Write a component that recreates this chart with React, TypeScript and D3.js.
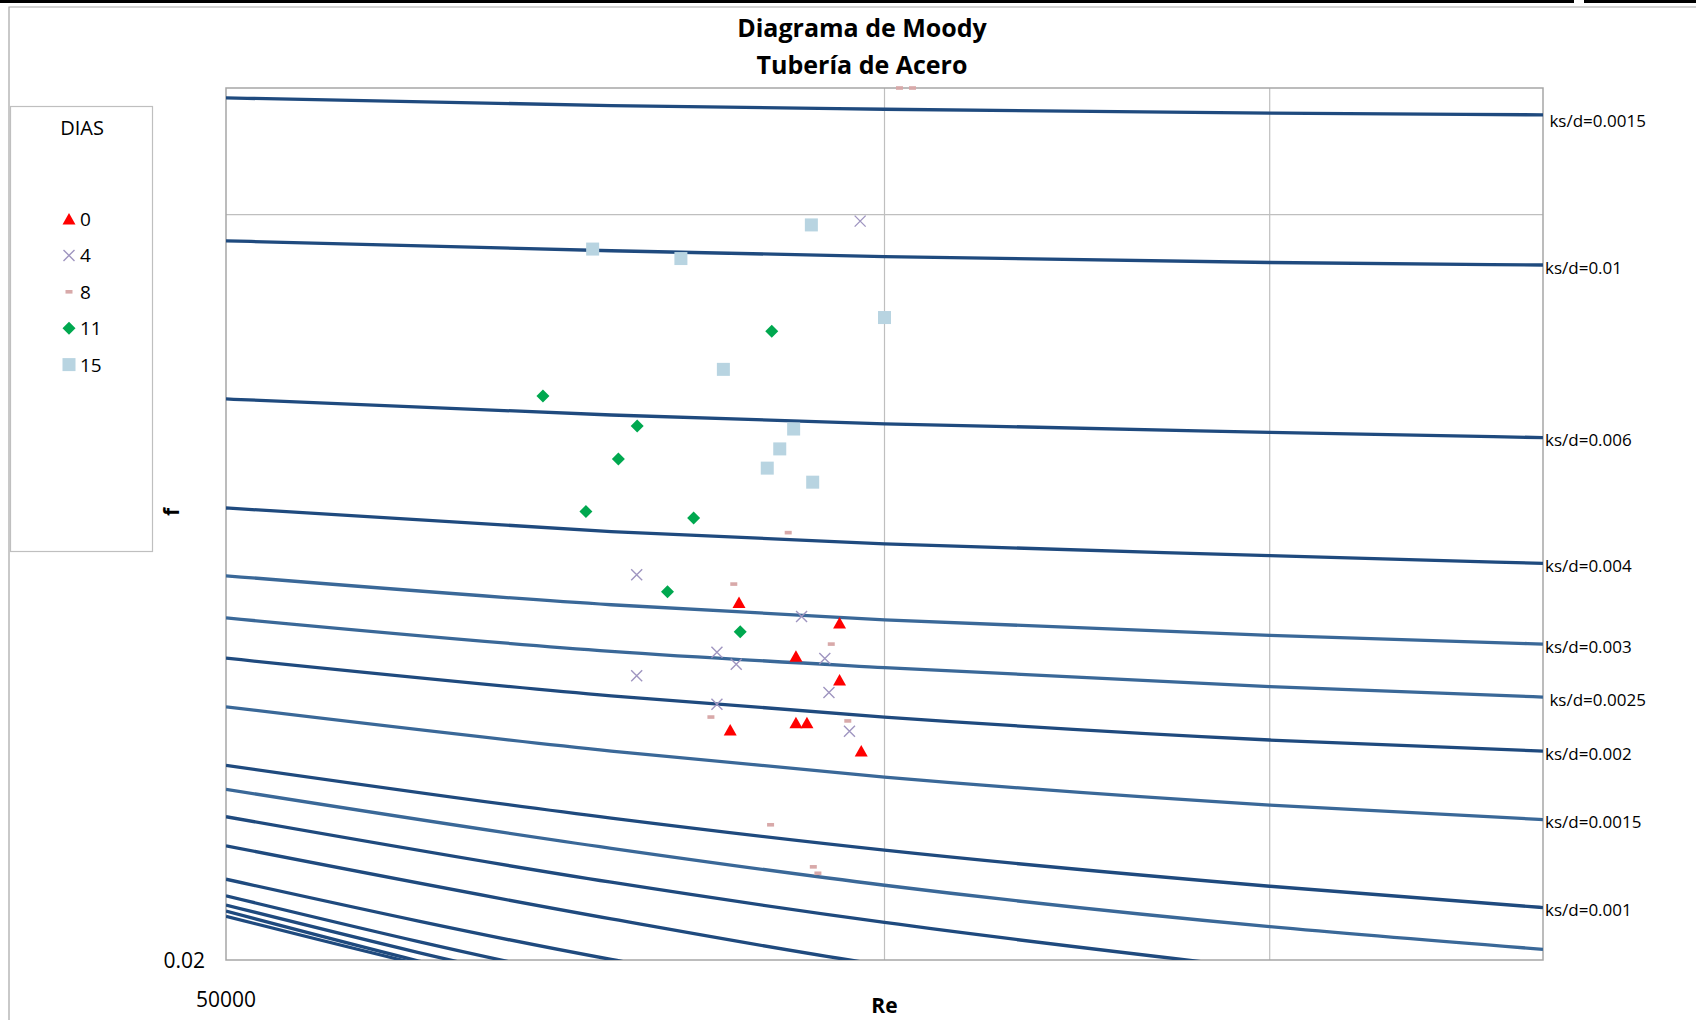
import React, { useEffect, useRef } from 'react';
import * as d3 from 'd3';

// Reynolds numbers at which the ks/d curves were read
const reGrid = [50000, 75000, 100000, 150000, 200000];

// one row per ks/d curve, values of f at reGrid (top curve first)
const curveF = [
  [0.04459, 0.04427, 0.04412, 0.04396, 0.04389],
  [0.03904, 0.03868, 0.03847, 0.03826, 0.03817],
  [0.03370, 0.03320, 0.03293, 0.03267, 0.03251],
  [0.03045, 0.02979, 0.02945, 0.02913, 0.02892],
  [0.02859, 0.02783, 0.02744, 0.02705, 0.02683],
  [0.02749, 0.02665, 0.02625, 0.02579, 0.02554],
  [0.02648, 0.02557, 0.02507, 0.02454, 0.02429],
  [0.02531, 0.02429, 0.02371, 0.02310, 0.02279],
  [0.02397, 0.02282, 0.02215, 0.02142, 0.02100],
  [0.02344, 0.02219, 0.02144, 0.02063, 0.02020],
  [0.02285, 0.02150, 0.02071, 0.01982, 0.01925],
  [0.02224, 0.02078, 0.01990, 0.01909, 0.01865],
  [0.02156, 0.02001, 0.01918, 0.01840, 0.01789],
  [0.02123, 0.01958, 0.01874, 0.01797, 0.01748],
  [0.02105, 0.01936, 0.01853, 0.01776, 0.01727],
  [0.02093, 0.01918, 0.01835, 0.01758, 0.01710],
  [0.02083, 0.01915, 0.01833, 0.01756, 0.01708],
];

const curveLabels = [
  " ks/d=0.0015", "ks/d=0.01", "ks/d=0.006", "ks/d=0.004", "ks/d=0.003",
  " ks/d=0.0025", "ks/d=0.002", "ks/d=0.0015", "ks/d=0.001",
  "", "", "", "", "", "", "", "",
];

// measured points, one pair of arrays per DIAS series
const re0 = [85800, 95380, 91100, 95380, 85010, 91100, 92160, 97580];
const f0 = [0.02789, 0.02736, 0.02653, 0.02595, 0.02477, 0.02494, 0.02494, 0.02429];

const re4 = [97470, 77040, 91640, 83830, 85550, 93910, 77040, 83830, 94320, 96380];
const f4 = [0.03976, 0.02862, 0.02753, 0.02663, 0.02633, 0.02647, 0.02605, 0.02537, 0.02565, 0.02474];

const re8 = [101590, 102990, 85330, 94550, 90360, 83300, 96210, 88700, 92780, 93230];
const f8 = [0.045, 0.045, 0.02837, 0.02683, 0.02976, 0.02507, 0.02498, 0.02268, 0.02181, 0.02168];

const re11 = [88810, 69800, 77080, 75570, 73030, 81800, 79580, 85910];
const f11 = [0.03589, 0.03379, 0.03286, 0.03187, 0.03035, 0.03017, 0.02817, 0.02714];

const re15 = [73550, 80710, 92590, 100000, 84400, 90880, 89560, 88390, 92720];
const f15 = [0.03874, 0.03840, 0.03962, 0.03635, 0.03464, 0.03277, 0.03217, 0.03160, 0.03119];

const diasNames = ["0", "4", "8", "11", "15"];

const xTicks = [50000];
const yTicks = [0.02];
const xGrid = [100000, 150000];
const yGrid = [0.04];

// style
const DARK = '#1f4a7e';
const LIGHT = '#3a6898';
const lightCurves = [4, 5, 7, 9];
const FONT = "'Open Sans', sans-serif";

type Kind = 'tri' | 'cross' | 'dash' | 'diamond' | 'square';
const kinds: Kind[] = ['tri', 'cross', 'dash', 'diamond', 'square'];

const drawMarker = (g: d3.Selection<SVGGElement, unknown, null, undefined>, kind: Kind, x: number, y: number) => {
  if (kind === 'tri') {
    g.append('path')
      .attr('d', `M${x},${y - 6}L${x + 6.5},${y + 5.5}L${x - 6.5},${y + 5.5}Z`)
      .attr('fill', '#ff0000');
  } else if (kind === 'cross') {
    g.append('path')
      .attr('d', `M${x - 5.5},${y - 5.5}L${x + 5.5},${y + 5.5}M${x - 5.5},${y + 5.5}L${x + 5.5},${y - 5.5}`)
      .attr('stroke', '#9f95c0')
      .attr('stroke-width', 1.4)
      .attr('fill', 'none');
  } else if (kind === 'dash') {
    g.append('rect')
      .attr('x', x - 3.5).attr('y', y - 1.8)
      .attr('width', 7).attr('height', 3.6)
      .attr('fill', '#d8a9a9');
  } else if (kind === 'diamond') {
    g.append('path')
      .attr('d', `M${x},${y - 6.5}L${x + 6.5},${y}L${x},${y + 6.5}L${x - 6.5},${y}Z`)
      .attr('fill', '#00a84f');
  } else {
    g.append('rect')
      .attr('x', x - 6.5).attr('y', y - 6.5)
      .attr('width', 13).attr('height', 13)
      .attr('fill', '#b8d4e1');
  }
};

const App: React.FC = () => {
  const svgRef = useRef<SVGSVGElement>(null);

  useEffect(() => {
    if (!svgRef.current) return;
    document.body.style.margin = '0';

    const width = 1696;
    const height = 1020;
    const plot = { left: 226, top: 88, right: 1543, bottom: 960 };

    const svg = d3.select(svgRef.current);
    svg.selectAll('*').remove();

    svg.append('rect').attr('width', width).attr('height', height).attr('fill', '#fff');

    // sheet border + chart area border
    svg.append('line')
      .attr('x1', 0).attr('x2', 1574).attr('y1', 1.5).attr('y2', 1.5)
      .attr('stroke', '#000').attr('stroke-width', 3);
    svg.append('line')
      .attr('x1', 1584).attr('x2', width).attr('y1', 1.5).attr('y2', 1.5)
      .attr('stroke', '#000').attr('stroke-width', 3);
    svg.append('path')
      .attr('d', `M9,${height}V7H${width}`)
      .attr('fill', 'none')
      .attr('stroke', '#a6a6a6')
      .attr('stroke-width', 1.2);

    const x = d3.scaleLog().domain([50000, 200000]).range([plot.left, plot.right]);
    const y = d3.scaleLog().base(2).domain([0.02, 0.045]).range([plot.bottom, plot.top]);

    // Title
    const title = svg.append('g')
      .attr('font-family', FONT)
      .attr('font-weight', 'bold')
      .attr('font-size', 25)
      .attr('text-anchor', 'middle')
      .attr('fill', '#000');
    title.append('text').attr('x', 862).attr('y', 37).text('Diagrama de Moody');
    title.append('text').attr('x', 862).attr('y', 74).text('Tubería de Acero');

    // gridlines
    const grid = svg.append('g').attr('stroke', '#bfbfbf').attr('stroke-width', 1.2);
    xGrid.forEach(v => {
      grid.append('line')
        .attr('x1', x(v)).attr('x2', x(v))
        .attr('y1', plot.top).attr('y2', plot.bottom);
    });
    yGrid.forEach(v => {
      grid.append('line')
        .attr('x1', plot.left).attr('x2', plot.right)
        .attr('y1', y(v)).attr('y2', y(v));
    });

    // plot frame
    svg.append('rect')
      .attr('x', plot.left).attr('y', plot.top)
      .attr('width', plot.right - plot.left)
      .attr('height', plot.bottom - plot.top)
      .attr('fill', 'none')
      .attr('stroke', '#a6a6a6')
      .attr('stroke-width', 1.5);

    svg.append('clipPath').attr('id', 'plot-clip')
      .append('rect')
      .attr('x', plot.left).attr('y', plot.top)
      .attr('width', plot.right - plot.left)
      .attr('height', plot.bottom - plot.top);

    // ks/d curves
    const line = d3.line<number>()
      .x((_, i) => x(reGrid[i]))
      .y(d => y(d))
      .curve(d3.curveMonotoneX);

    const curves = svg.append('g').attr('clip-path', 'url(#plot-clip)');
    curveF.forEach((vals, i) => {
      curves.append('path')
        .datum(vals)
        .attr('fill', 'none')
        .attr('stroke', lightCurves.includes(i) ? LIGHT : DARK)
        .attr('stroke-width', 3.3)
        .attr('d', line);
    });

    // curve labels at the right end (leading spaces kept)
    const labels = svg.append('g')
      .attr('font-family', FONT)
      .attr('font-size', 17)
      .attr('fill', '#000');
    curveF.forEach((vals, i) => {
      if (!curveLabels[i]) return;
      labels.append('text')
        .attr('xml:space', 'preserve')
        .style('white-space', 'pre')
        .attr('x', x(reGrid[reGrid.length - 1]) + 2)
        .attr('y', y(vals[vals.length - 1]) + (i === 0 ? 6 : 2))
        .attr('dominant-baseline', 'central')
        .text(curveLabels[i]);
    });

    // scatter series
    const seriesRe = [re0, re4, re8, re11, re15];
    const seriesF = [f0, f4, f8, f11, f15];
    const pts = svg.append('g');
    seriesRe.forEach((res, s) => {
      res.forEach((re, i) => drawMarker(pts, kinds[s], x(re), y(seriesF[s][i])));
    });

    // axis tick labels
    const axisText = svg.append('g')
      .attr('font-family', FONT)
      .attr('font-size', 21)
      .attr('fill', '#000');
    yTicks.forEach(v => {
      axisText.append('text')
        .attr('x', plot.left - 21)
        .attr('y', y(v))
        .attr('dominant-baseline', 'central')
        .attr('text-anchor', 'end')
        .text(String(v));
    });
    xTicks.forEach(v => {
      axisText.append('text')
        .attr('x', x(v))
        .attr('y', 1007)
        .attr('text-anchor', 'middle')
        .text(String(v));
    });

    // axis titles
    svg.append('text')
      .attr('x', (plot.left + plot.right) / 2)
      .attr('y', 1013)
      .attr('text-anchor', 'middle')
      .attr('font-family', FONT)
      .attr('font-weight', 'bold')
      .attr('font-size', 21)
      .text('Re');
    svg.append('text')
      .attr('transform', 'translate(179,512) rotate(-90)')
      .attr('text-anchor', 'middle')
      .attr('font-family', FONT)
      .attr('font-weight', 'bold')
      .attr('font-size', 21)
      .text('f');

    // legend
    const legend = svg.append('g');
    legend.append('rect')
      .attr('x', 10.5).attr('y', 106.5)
      .attr('width', 142).attr('height', 445)
      .attr('fill', '#fff')
      .attr('stroke', '#bfbfbf')
      .attr('stroke-width', 1.2);
    legend.append('text')
      .attr('x', 82).attr('y', 135)
      .attr('text-anchor', 'middle')
      .attr('font-family', FONT)
      .attr('font-size', 20)
      .text('DIAS');
    diasNames.forEach((name, i) => {
      const cy = 219 + i * 36.4;
      drawMarker(legend, kinds[i], 69, cy);
      legend.append('text')
        .attr('x', 80)
        .attr('y', cy)
        .attr('dominant-baseline', 'central')
        .attr('font-family', FONT)
        .attr('font-size', 19)
        .text(name);
    });
  }, []);

  return (
    <div style={{ position: 'absolute', left: 0, top: 0 }}>
      <svg ref={svgRef} width={1696} height={1020} style={{ display: 'block' }} />
    </div>
  );
};

export default App;
